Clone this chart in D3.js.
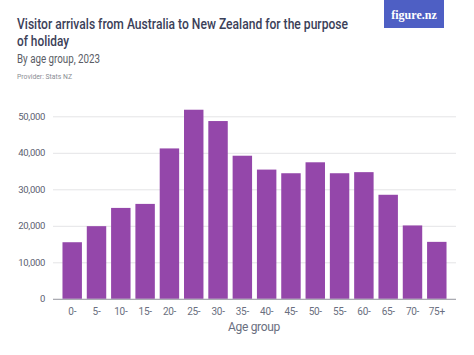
<!DOCTYPE html>
<html>
<head>
<meta charset="utf-8">
<script src="https://cdn.jsdelivr.net/npm/d3@7/dist/d3.min.js"></script>
<style>
  html, body { margin: 0; padding: 0; background: #fff; }
  svg { display: block; }
</style>
</head>
<body>
<svg id="chart" width="474" height="355"></svg>
<script>
const categories = ["0-","5-","10-","15-","20-","25-","30-","35-","40-","45-","50-","55-","60-","65-","70-","75+"];
const arrivals = [15500, 19900, 24900, 26000, 41200, 51800, 48700, 39200, 35400, 34400, 37400, 34400, 34700, 28500, 20100, 15600];
const yTicks = [0, 10000, 20000, 30000, 40000, 50000];
const titleLines = ["Visitor arrivals from Australia to New Zealand for the purpose", "of holiday"];
const subtitle = "By age group, 2023";
const provider = "Provider: Stats NZ";
const xAxisTitle = "Age group";

const svg = d3.select("#chart");
const font = "Roboto, 'Noto Sans', sans-serif";

const x = d3.scaleBand().domain(categories).range([53, 456]).paddingInner(0.2).paddingOuter(0.39);
const y = d3.scaleLinear().domain([0, 50000]).range([298.8, 116.3]);

// Title block
svg.append("text").attr("x", 17).attr("y", 29).text(titleLines[0])
  .attr("font-family", font).attr("font-size", 14.5).attr("font-weight", 500)
  .attr("fill", "#3b4058").attr("textLength", 331).attr("lengthAdjust", "spacingAndGlyphs");
svg.append("text").attr("x", 17).attr("y", 46).text(titleLines[1])
  .attr("font-family", font).attr("font-size", 14.5).attr("font-weight", 500)
  .attr("fill", "#3b4058").attr("textLength", 52).attr("lengthAdjust", "spacingAndGlyphs");
svg.append("text").attr("x", 17).attr("y", 63).text(subtitle)
  .attr("font-family", font).attr("font-size", 12).attr("fill", "#5a5d66")
  .attr("textLength", 83).attr("lengthAdjust", "spacingAndGlyphs");
svg.append("text").attr("x", 17).attr("y", 79).text(provider)
  .attr("font-family", font).attr("font-size", 7.5).attr("fill", "#8a8d94")
  .attr("textLength", 55).attr("lengthAdjust", "spacingAndGlyphs");

// Logo
svg.append("rect").attr("x", 384).attr("y", 0).attr("width", 60).attr("height", 28).attr("fill", "#4e5fc4");
svg.append("text").attr("x", 414).attr("y", 18.5).attr("text-anchor", "middle").text("figure.nz")
  .attr("font-family", "'Liberation Serif', 'DejaVu Serif', serif").attr("font-size", 12).attr("font-weight", "bold")
  .attr("fill", "#fff");

// Gridlines + y labels
const yAxis = d3.axisLeft(y).tickValues(yTicks).tickSize(-(456 - 53)).tickFormat(d3.format(","));
const gy = svg.append("g").attr("transform", "translate(53,0)").call(yAxis);
gy.select(".domain").remove();
gy.selectAll(".tick line").attr("stroke", "#e4e4e6").attr("stroke-width", 1);
gy.selectAll(".tick text").attr("x", -8).attr("font-family", font).attr("font-size", 9.5)
  .attr("fill", "#5b6070").attr("letter-spacing", -0.3);

// Bars
svg.append("g").selectAll("rect").data(arrivals).join("rect")
  .attr("x", (d, i) => x(categories[i]))
  .attr("y", d => y(d))
  .attr("width", x.bandwidth())
  .attr("height", d => y(0) - y(d))
  .attr("fill", "#9447aa");

// X axis
const xAxis = d3.axisBottom(x).tickSize(0).tickPadding(9);
const gx = svg.append("g").attr("transform", `translate(0,${y(0)})`).call(xAxis);
gx.select(".domain").attr("stroke", "#9a9ca4").attr("d", "M53,0.5H456");
gx.selectAll(".tick text").attr("font-family", font).attr("font-size", 10)
  .attr("fill", "#6a6f80").attr("letter-spacing", -0.3);

svg.append("text").attr("x", 254).attr("y", 331).attr("text-anchor", "middle").text(xAxisTitle)
  .attr("font-family", font).attr("font-size", 12).attr("fill", "#6a6f80").attr("letter-spacing", -0.3);
</script>
</body>
</html>
